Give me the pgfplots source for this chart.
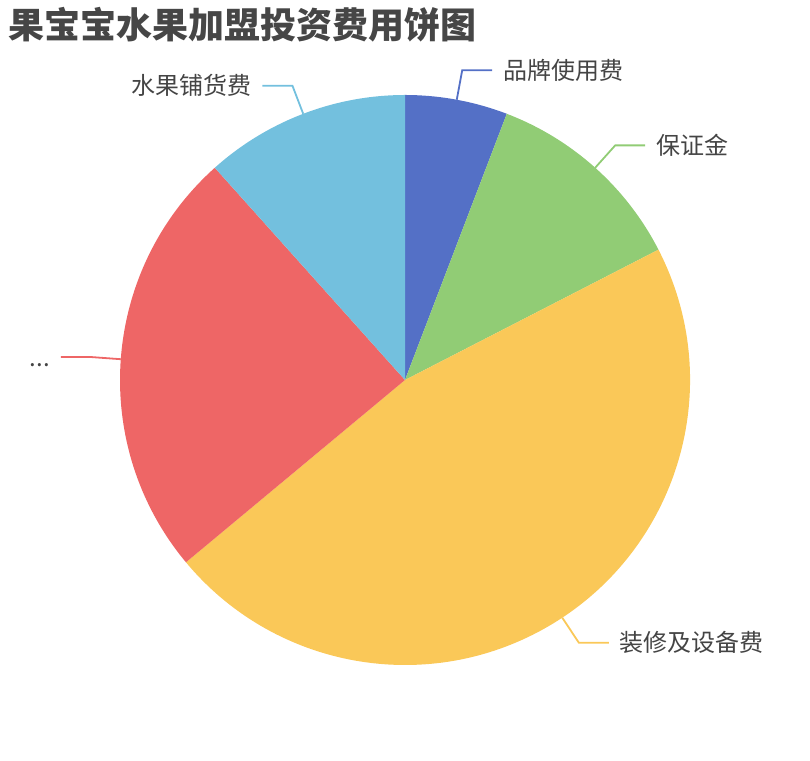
\documentclass[border=0pt]{standalone}
\usepackage{pgfplots}
\usepackage{pgfplotstable}
\pgfplotsset{compat=1.18}
\usepackage{fontspec}
\setmainfont{Noto Sans CJK SC}

\definecolor{cblue}{HTML}{5470C6}
\definecolor{cgreen}{HTML}{91CC75}
\definecolor{cyellow}{HTML}{FAC858}
\definecolor{cred}{HTML}{EE6666}
\definecolor{ccyan}{HTML}{73C0DE}
\definecolor{titlegray}{HTML}{464646}
\definecolor{labelgray}{HTML}{444444}

% values (clockwise from the top)
\pgfplotstableread[col sep=comma]{
name,value,col
品牌使用费,5,cblue
保证金,10,cgreen
装修及设备费,40,cyellow
...,21,cred
水果铺货费,10,ccyan
}\piedata

\begin{document}
\begin{tikzpicture}
\begin{axis}[
    x=1pt, y=1pt,
    xmin=0, xmax=810, ymin=0, ymax=760,
    scale only axis,
    hide axis,
    clip=false,
]
% keep the whole 810x760 canvas as the picture's size
\path (rel axis cs:0,0) rectangle (rel axis cs:1,1);
\pgfplotsextra{
  \pgfplotstablegetrowsof{\piedata}
  \pgfmathtruncatemacro\nrows{\pgfplotsretval-1}
  \gdef\total{0}
  \foreach \i in {0,...,\nrows}{%
    \pgfplotstablegetelem{\i}{value}\of\piedata
    \pgfmathsetmacro\t{\total+\pgfplotsretval}\xdef\total{\t}}
  \gdef\cum{0}
  \foreach \i in {0,...,\nrows}{%
    \pgfplotstablegetelem{\i}{value}\of\piedata \let\v\pgfplotsretval
    \pgfplotstablegetelem{\i}{col}\of\piedata \let\c\pgfplotsretval
    \pgfplotstablegetelem{\i}{name}\of\piedata \let\n\pgfplotsretval
    \pgfmathsetmacro\aS{90-\cum/\total*360}
    \pgfmathsetmacro\aE{90-(\cum+\v)/\total*360}
    \pgfmathsetmacro\aM{(\aS+\aE)/2}
    \pgfmathsetmacro\s{cos(\aM)<0 ? -1 : 1}
    \fill[\c] (axis cs:405,380)
      -- (axis cs:{405+285*cos(\aS)},{380+285*sin(\aS)})
      arc[start angle=\aS, end angle=\aE, radius=285pt] -- cycle;
    \ifdim\s pt<0pt \def\anch{east}\else\def\anch{west}\fi
    \pgfmathsetmacro\ex{405+315*cos(\aM)}
    \pgfmathsetmacro\ey{380+315*sin(\aM)}
    \pgfmathsetmacro\fx{\ex+\s*30}
    \draw[\c, line width=1.8pt]
      (axis cs:{405+285*cos(\aM)},{380+285*sin(\aM)})
      -- (axis cs:\ex,\ey) -- (axis cs:\fx,\ey)
      node[anchor=\anch, xshift=\s*10pt, inner sep=0pt, text=labelgray,
           text height=21pt, text depth=3pt,
           font=\fontsize{24}{24}\selectfont] {\n};
    \pgfmathsetmacro\t{\cum+\v}\xdef\cum{\t}
  }
}
\node[anchor=west, inner sep=0pt, text=titlegray,
      font=\fontsize{36}{36}\selectfont\bfseries] at (axis cs:8,735) {果宝宝水果加盟投资费用饼图};
\end{axis}
\end{tikzpicture}
\end{document}
